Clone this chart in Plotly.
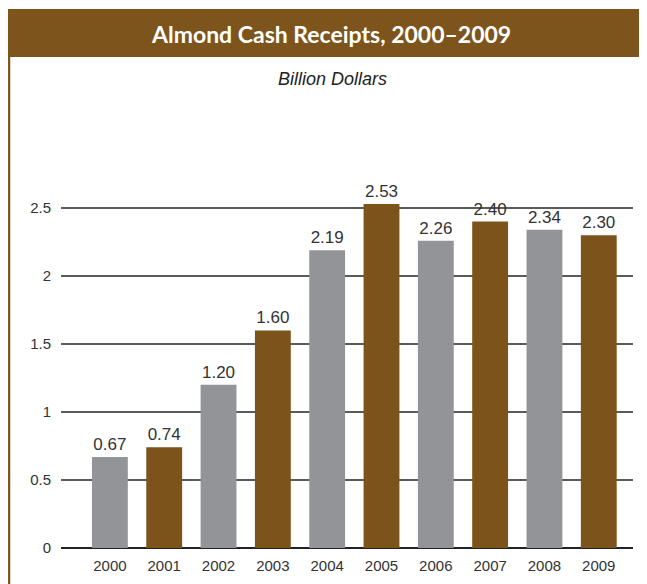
import plotly.graph_objects as go

years = ["2000", "2001", "2002", "2003", "2004", "2005", "2006", "2007", "2008", "2009"]
receipts = [0.67, 0.74, 1.20, 1.60, 2.19, 2.53, 2.26, 2.40, 2.34, 2.30]
bar_colors = ["#929497", "#7B531B"] * 5
y_ticks = [0, 0.5, 1, 1.5, 2, 2.5]
y_tick_labels = ["0", "0.5", "1", "1.5", "2", "2.5"]

BROWN = "#7D551C"
OFF = 8  # page body margin
W, H = 647 - OFF, 584 - OFF
ml, mr, mt, mb = 61 - OFF, 14, 130 - OFF, 36
pw, ph = W - ml - mr, H - mt - mb

def px_x(p):
    return (p - OFF - ml) / pw

def px_y(p):
    return (H - mb - (p - OFF)) / ph

narrow = "Liberation Sans Narrow, Arial Narrow, Liberation Sans, sans-serif"

fig = go.Figure(go.Bar(
    x=years, y=receipts,
    marker=dict(color=bar_colors, line=dict(width=0)),
    text=[f"{v:.2f}" for v in receipts],
    textposition="outside",
    textfont=dict(family=narrow, size=17, color="#333333"),
    cliponaxis=False,
    width=0.66,
))

fig.update_layout(
    width=W, height=H,
    margin=dict(l=ml, r=mr, t=mt, b=mb),
    paper_bgcolor="white", plot_bgcolor="white",
    showlegend=False,
    xaxis=dict(
        type="category", range=[-0.9, 9.63],
        showgrid=False, showline=False, ticks="",
        ticklabelstandoff=7, automargin=False,
        tickfont=dict(family=narrow, size=15, color="#333333"),
        fixedrange=True,
    ),
    yaxis=dict(
        range=[0, (H - mb - mt) / 136.0],
        tickvals=y_ticks, ticktext=y_tick_labels,
        showgrid=True, gridcolor="#5a5a5a", gridwidth=1.5,
        zeroline=True, zerolinecolor="#222222", zerolinewidth=1.5,
        showline=False, ticks="",
        ticklabelstandoff=9, automargin=False,
        tickfont=dict(family=narrow, size=15, color="#333333"),
        fixedrange=True,
    ),
    shapes=[
        dict(type="rect", xref="paper", yref="paper",
             x0=px_x(7), x1=px_x(650), y0=px_y(57), y1=px_y(9),
             fillcolor=BROWN, line=dict(width=0), layer="above"),
        dict(type="line", xref="paper", yref="paper",
             x0=px_x(9), x1=px_x(9), y0=px_y(57), y1=px_y(590),
             line=dict(color=BROWN, width=2.5)),
    ],
    annotations=[
        dict(text="<b>Almond Cash Receipts, 2000–2009</b>",
             xref="paper", yref="paper", x=px_x(331), y=px_y(34),
             xanchor="center", yanchor="middle", showarrow=False,
             font=dict(family="Lato, Open Sans, sans-serif", size=23, color="white")),
        dict(text="<i>Billion Dollars</i>",
             xref="paper", yref="paper", x=px_x(332), y=px_y(79),
             xanchor="center", yanchor="middle", showarrow=False,
             font=dict(family=narrow, size=18, color="#222222")),
    ],
)

fig.write_html("out.html")
